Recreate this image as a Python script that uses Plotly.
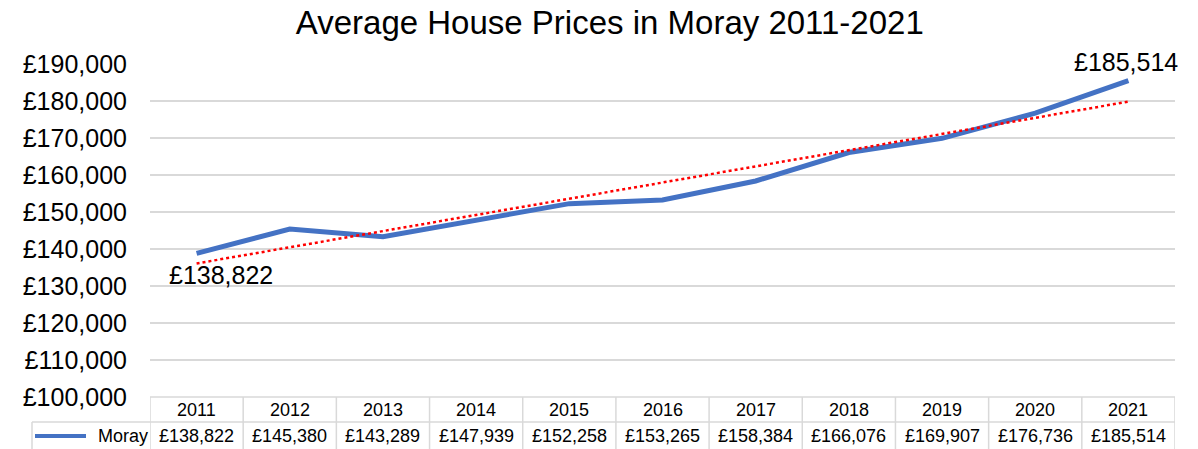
import numpy as np
import plotly.graph_objects as go

# データ
years = ['2011', '2012', '2013', '2014', '2015', '2016', '2017', '2018', '2019', '2020', '2021']
prices = [138822, 145380, 143289, 147939, 152258, 153265, 158384, 166076, 169907, 176736, 185514]
series_name = 'Moray'
y_ticks = [100000, 110000, 120000, 130000, 140000, 150000, 160000, 170000, 180000, 190000]

BLUE = '#4472C4'
GRID = '#d9d9d9'
FONT = 'Arial, Liberation Sans, sans-serif'

# 線形トレンドライン（Excelの近似曲線と同じ）
idx = np.arange(len(prices))
slope, intercept = np.polyfit(idx, prices, 1)
trend = slope * idx + intercept

fig = go.Figure()
fig.add_trace(go.Scatter(x=years, y=prices, mode='lines', name=series_name,
                         line=dict(color=BLUE, width=5)))
fig.add_trace(go.Scatter(x=years, y=trend, mode='lines', name='trend',
                         line=dict(color='red', width=2.5, dash='dot')))

# 最初と最後の値のラベル（カテゴリ軸なので番号で位置指定）
fig.add_annotation(x=0, y=prices[0], text=f'£{prices[0]:,}', showarrow=False,
                   xshift=24, yshift=-22, font=dict(size=25, color='#000'))
fig.add_annotation(x=len(prices) - 1, y=prices[-1], text=f'£{prices[-1]:,}', showarrow=False,
                   xshift=-2, yshift=19, font=dict(size=25, color='#000'))

# データテーブル（グラフ下）
plot_h = 449 - 64 - 52
def py(pix):
    # ピクセル位置 → paper座標
    return (397 - pix) / plot_h

left = (32 - 150) / 1025
shapes = []
line_style = dict(color=GRID, width=1.5)
# 横線
shapes.append(dict(type='line', xref='x', yref='paper', x0=-0.5, x1=10.5, y0=py(397), y1=py(397), line=line_style))
shapes.append(dict(type='line', xref='paper', yref='paper', x0=left, x1=1, y0=py(422), y1=py(422), line=line_style))
shapes.append(dict(type='line', xref='paper', yref='paper', x0=left, x1=1, y0=py(450), y1=py(450), line=line_style))
# 縦線
for k in range(len(years) + 1):
    shapes.append(dict(type='line', xref='x', yref='paper', x0=k - 0.5, x1=k - 0.5,
                       y0=py(397), y1=py(450), line=line_style))
shapes.append(dict(type='line', xref='paper', yref='paper', x0=left, x1=left,
                   y0=py(422), y1=py(450), line=line_style))
# 凡例キー
shapes.append(dict(type='line', xref='paper', yref='paper', x0=(35 - 150) / 1025, x1=(86 - 150) / 1025,
                   y0=py(436), y1=py(436), line=dict(color=BLUE, width=4)))
fig.update_layout(shapes=shapes)

for k, (yr, p) in enumerate(zip(years, prices)):
    fig.add_annotation(x=k, y=py(410), yref='paper', yanchor='middle', text=yr, showarrow=False,
                       font=dict(size=18, color='#000'))
    fig.add_annotation(x=k, y=py(436), yref='paper', yanchor='middle', text=f'£{p:,}', showarrow=False,
                       font=dict(size=18, color='#000'))
fig.add_annotation(x=(150 - 150) / 1025, xref='paper', xanchor='right', y=py(436), yref='paper',
                   yanchor='middle', text=series_name, showarrow=False, font=dict(size=18, color='#000'))

fig.update_xaxes(type='category', range=[-0.5, 10.5], showticklabels=False,
                 showgrid=False, zeroline=False, showline=False)
fig.update_yaxes(range=[100000, 190000], tickvals=y_ticks,
                 ticktext=[f'£{v:,}' for v in y_ticks], showgrid=True, gridcolor=GRID,
                 gridwidth=1.5, zeroline=False, tickfont=dict(size=25, color='#000'),
                 ticks='', ticklabelstandoff=22)

fig.update_layout(
    width=1198, height=449,
    title=dict(text='Average House Prices in Moray 2011-2021', x=0.509, xanchor='center',
               y=0.95, yanchor='middle', font=dict(size=33, color='#000')),
    font=dict(family=FONT, color='#000'),
    showlegend=False,
    plot_bgcolor='white', paper_bgcolor='white',
    margin=dict(l=150, r=23, t=64, b=52),
)

fig.write_html('out.html', config={'displayModeBar': False},
               post_script="document.body.style.margin='0';")
